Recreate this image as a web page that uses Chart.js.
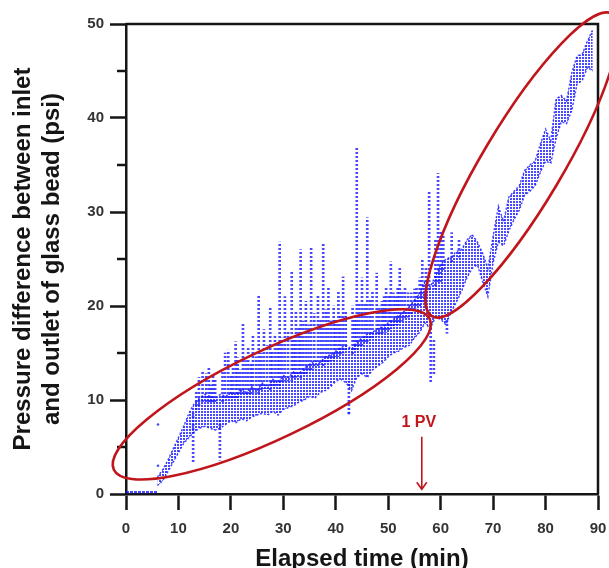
<!DOCTYPE html>
<html>
<head>
<meta charset="utf-8">
<script src="https://cdn.jsdelivr.net/npm/chart.js@4.4.1/dist/chart.umd.min.js"></script>
<style>
  html, body { margin: 0; padding: 0; background: #fff; }
</style>
</head>
<body>
<canvas id="chart" width="609" height="568"></canvas>
<script>
// pressure trace (time in min, pressure in psi)

// flat start before the beads load up
const baseTime = [0, 1, 2, 3, 4, 5, 6];
const baseValue = [0.2, 0.2, 0.2, 0.2, 0.2, 0.2, 0.2];

// dense band of the trace, lower and upper edge per minute
const coreTime = [6, 7, 8, 9, 10, 11, 12, 13, 14, 15, 16, 17, 18, 19, 20, 21, 22, 23, 24, 25,
    26, 27, 28, 29, 30, 31, 32, 33, 34, 35, 36, 37, 38, 39, 40, 41, 42, 43, 44, 45,
    46, 47, 48, 49, 50, 51, 52, 53, 54, 55, 56, 57, 58, 59, 60, 61, 62, 63, 64, 65,
    66, 67, 68, 69, 70, 71, 72, 73, 74, 75, 76, 77, 78, 79, 80, 81, 82, 83, 84, 85,
    86, 87, 88, 89];
const coreLow = [0.9, 1.4, 2.4, 3.4, 4.4, 5.4, 6.0, 6.6, 7.0, 7.2, 7.0, 6.8, 7.0, 7.4, 7.8, 7.6, 8.0, 7.8, 8.2, 8.4,
    8.6, 8.4, 8.8, 8.4, 9.0, 9.2, 9.4, 9.8, 10.0, 10.4, 10.2, 10.8, 11.0, 11.4, 12.0, 12.2, 11.8, 11.0, 12.4, 12.8,
    12.4, 13.2, 13.6, 14.0, 14.6, 15.0, 15.2, 15.6, 15.8, 16.6, 17.2, 18.2, 17.6, 18.8, 18.6, 18.0, 19.4, 20.4, 21.6, 23.0,
    24.0, 24.4, 22.6, 21.0, 24.6, 26.8, 26.4, 28.0, 29.2, 30.2, 31.8, 32.2, 32.8, 34.2, 35.4, 35.2, 37.8, 39.6, 39.4, 40.8,
    43.6, 44.0, 45.4, 45.0];
const coreHigh = [1.8, 2.6, 3.6, 4.8, 6.0, 7.2, 8.6, 9.6, 10.2, 10.6, 10.4, 10.2, 10.6, 10.4, 10.8, 10.6, 11.2, 10.8, 11.4, 11.0,
    11.8, 11.4, 12.2, 11.8, 12.6, 12.4, 13.0, 12.8, 13.4, 13.8, 14.2, 14.0, 14.6, 14.8, 15.2, 15.6, 15.8, 15.4, 16.2, 16.6,
    17.0, 17.2, 17.6, 17.8, 18.2, 18.6, 19.0, 19.4, 20.0, 20.6, 21.4, 22.6, 22.0, 23.2, 24.4, 25.0, 25.2, 25.8, 26.0, 27.0,
    27.6, 26.8, 25.6, 24.0, 27.4, 30.6, 29.0, 31.6, 32.2, 32.8, 34.4, 35.0, 35.4, 37.2, 38.8, 37.6, 42.0, 42.4, 41.8, 44.8,
    46.6, 46.8, 48.2, 49.4];

// pressure spikes: runs of samples going up (or down) from the band
const spikeTime = [12.8, 13.4, 13.9, 14.6, 15.3, 15.8, 16.2, 16.6, 17.0, 17.9, 18.4, 18.9, 19.5, 20.0, 20.4, 20.9,
    21.3, 21.8, 22.3, 22.8, 23.3, 23.8, 24.2, 24.8, 25.3, 25.8, 26.3, 26.9, 27.5, 27.9, 28.4, 28.9,
    29.3, 29.8, 30.3, 30.9, 31.6, 32.0, 32.4, 32.9, 33.3, 33.8, 34.3, 34.8, 35.3, 35.9, 36.6, 37.1,
    37.6, 38.1, 38.6, 39.1, 39.6, 40.0, 40.5, 40.9, 41.4, 41.9, 42.5, 43.2, 43.6, 44.0, 44.5, 45.0,
    45.5, 46.0, 46.5, 47.0, 47.8, 48.3, 48.8, 49.2, 49.6, 50.1, 50.5, 51.0, 51.4, 51.8, 52.2, 52.7,
    53.2, 53.8, 54.4, 55.0, 55.4, 56.0, 56.5, 57.2, 57.8, 58.1, 58.7, 59.0, 59.5, 60.0, 60.5, 61.2,
    62.1, 63.5];
const spikeLow = [3.4, 9.0, 9.2, 9.6, 9.8, 9.8, 9.6, 9.6, 9.6, 3.6, 9.8, 10.0, 10.0, 10.0, 10.2, 10.2,
    10.2, 10.4, 10.6, 10.6, 10.4, 10.6, 10.8, 10.8, 10.6, 11.0, 11.2, 11.2, 11.0, 11.4, 11.4, 11.6,
    11.2, 11.8, 12.0, 12.0, 12.0, 12.4, 12.4, 12.6, 12.2, 12.8, 12.8, 13.0, 13.0, 13.4, 13.6, 13.8,
    13.6, 14.0, 14.0, 14.2, 14.2, 14.6, 14.6, 14.8, 15.0, 15.2, 8.6, 14.8, 15.2, 15.4, 15.6, 15.8,
    16.0, 16.2, 16.4, 16.6, 16.8, 17.0, 17.0, 17.2, 17.2, 17.4, 17.6, 17.8, 18.0, 18.0, 18.2, 18.4,
    18.6, 18.8, 19.0, 19.4, 19.8, 20.0, 20.4, 20.8, 21.6, 11.8, 12.6, 21.8, 22.4, 22.6, 23.8, 17.1,
    24.6, 25.2];
const spikeHigh = [8.6, 11.0, 12.4, 13.0, 12.8, 13.4, 11.6, 12.6, 12.1, 8.0, 13.2, 15.0, 15.3, 12.6, 13.6, 16.2,
    14.5, 13.2, 18.2, 14.2, 15.5, 13.8, 16.8, 14.6, 21.2, 15.0, 17.5, 15.8, 19.9, 15.2, 17.0, 16.0,
    26.8, 16.6, 21.0, 17.4, 23.6, 17.0, 19.5, 17.8, 26.0, 18.4, 20.5, 18.0, 26.3, 19.2, 21.2, 18.6,
    26.7, 19.6, 22.0, 18.4, 20.0, 18.6, 21.5, 19.0, 23.1, 19.4, 12.0, 20.0, 19.0, 36.9, 20.4, 23.0,
    20.2, 29.4, 20.6, 21.5, 23.5, 20.0, 20.5, 21.0, 22.0, 21.2, 24.7, 21.4, 21.0, 22.0, 24.0, 21.6,
    22.0, 21.4, 21.4, 21.8, 22.0, 23.0, 25.0, 24.0, 32.3, 17.8, 16.4, 27.0, 34.1, 28.0, 27.6, 18.6,
    27.8, 27.0];

// lone samples away from the rest
const strayTime = [6.1, 6.1, 42.5];
const strayValue = [7.4, 3.0, 8.6];

const xTicks = [0, 10, 20, 30, 40, 50, 60, 70, 80, 90];
const yTicks = [0, 10, 20, 30, 40, 50];
const yMinorTicks = [5, 15, 25, 35, 45];

// "1 PV" marker
const pvTime = 56.4;
const pvLabel = '1 PV';

const FONT = '"Liberation Sans", Arial, sans-serif';
const BLUE = 'rgba(20, 20, 255, 0.78)';
const RED = '#c0161b';
const INK = '#151515';

// small tiled dot patterns so the marks read as sampled points
function dotPattern(w, h, size, color) {
    const c = document.createElement('canvas');
    c.width = w;
    c.height = h;
    const g = c.getContext('2d');
    g.fillStyle = color;
    g.fillRect(0, 0, size, size);
    return g.createPattern(c, 'repeat');
}

const denseDots = dotPattern(3, 3, 2, BLUE);
const sparseDots = dotPattern(2, 4, 2, BLUE);

const decorPlugin = {
    id: 'decor',
    afterDraw(chart) {
        const { ctx, chartArea: area, scales: { x, y } } = chart;
        ctx.save();

        // minor ticks on the pressure axis
        ctx.strokeStyle = INK;
        ctx.lineWidth = 2.5;
        yMinorTicks.forEach(v => {
            const py = y.getPixelForValue(v);
            ctx.beginPath();
            ctx.moveTo(area.left - 9, py);
            ctx.lineTo(area.left, py);
            ctx.stroke();
        });

        // top and right frame
        ctx.beginPath();
        ctx.moveTo(area.left, area.top);
        ctx.lineTo(area.right, area.top);
        ctx.lineTo(area.right, area.bottom);
        ctx.stroke();

        // the two highlight ellipses
        ctx.strokeStyle = RED;
        ctx.lineWidth = 2.6;
        const ellipses = [
            { t: 27.8, v: 10.6, a: 175, b: 44, deg: -25.5 },
            { t: 75.5, v: 35.0, a: 176, b: 40, deg: -59.2 }
        ];
        ellipses.forEach(e => {
            ctx.beginPath();
            ctx.ellipse(x.getPixelForValue(e.t), y.getPixelForValue(e.v), e.a, e.b,
                e.deg * Math.PI / 180, 0, Math.PI * 2);
            ctx.stroke();
        });

        // 1 PV label and arrow
        const px = x.getPixelForValue(pvTime);
        ctx.fillStyle = RED;
        ctx.font = 'bold 16px ' + FONT;
        ctx.textAlign = 'center';
        ctx.textBaseline = 'middle';
        ctx.fillText(pvLabel, px - 3, y.getPixelForValue(7.55));
        const top = y.getPixelForValue(6.1);
        const tip = y.getPixelForValue(0.5);
        ctx.lineWidth = 1.6;
        ctx.beginPath();
        ctx.moveTo(px, top);
        ctx.lineTo(px, tip);
        ctx.moveTo(px - 5, tip - 7);
        ctx.lineTo(px, tip);
        ctx.lineTo(px + 5, tip - 7);
        ctx.stroke();

        ctx.restore();
    }
};

const pts = (xs, ys) => xs.map((t, i) => ({ x: t, y: ys[i] }));

new Chart(document.getElementById('chart'), {
    type: 'scatter',
    data: {
        datasets: [
            {
                type: 'line',
                data: pts(baseTime, baseValue),
                borderColor: BLUE,
                borderWidth: 2.2,
                borderDash: [3, 1],
                pointRadius: 0
            },
            {
                type: 'line',
                data: pts(coreTime, coreLow),
                borderColor: BLUE,
                borderWidth: 1.5,
                borderDash: [2, 2],
                pointRadius: 0,
                fill: false
            },
            {
                type: 'line',
                data: pts(coreTime, coreHigh),
                borderColor: BLUE,
                borderWidth: 1.5,
                borderDash: [2, 2],
                pointRadius: 0,
                backgroundColor: denseDots,
                fill: '-1'
            },
            {
                type: 'bar',
                data: spikeTime.map((t, i) => ({ x: t, y: [spikeLow[i], spikeHigh[i]] })),
                backgroundColor: sparseDots,
                borderWidth: 0,
                barThickness: 2,
                grouped: false
            },
            {
                type: 'scatter',
                data: pts(strayTime, strayValue),
                backgroundColor: BLUE,
                borderWidth: 0,
                pointRadius: 1.3
            }
        ]
    },
    options: {
        responsive: false,
        animation: false,
        events: [],
        layout: { padding: { top: 24, right: 11, left: 0, bottom: 0 } },
        plugins: {
            legend: { display: false },
            tooltip: { enabled: false }
        },
        scales: {
            x: {
                type: 'linear',
                min: 0,
                max: 90,
                offset: false,
                afterBuildTicks: s => { s.ticks = xTicks.map(v => ({ value: v })); },
                afterFit: s => {
                    s.height = 74;
                    s.paddingLeft = 0;
                    s.paddingRight = 0;
                },
                border: { display: true, color: INK, width: 2.5 },
                grid: {
                    offset: false,
                    drawOnChartArea: false,
                    drawTicks: true,
                    tickLength: 16,
                    tickWidth: 2.5,
                    tickColor: INK
                },
                ticks: {
                    autoSkip: false,
                    maxRotation: 0,
                    padding: 10,
                    color: '#333',
                    font: { family: FONT, size: 15, weight: 'bold' }
                },
                title: {
                    display: true,
                    text: 'Elapsed time (min)',
                    color: INK,
                    padding: { top: 0, bottom: -6 },
                    font: { family: FONT, size: 24, weight: 'bold' }
                }
            },
            y: {
                type: 'linear',
                min: 0,
                max: 50,
                afterBuildTicks: s => { s.ticks = yTicks.map(v => ({ value: v })); },
                afterFit: s => {
                    s.width = 126;
                    s.paddingTop = 0;
                    s.paddingBottom = 0;
                },
                border: { display: true, color: INK, width: 2.5 },
                grid: {
                    offset: false,
                    drawOnChartArea: false,
                    drawTicks: true,
                    tickLength: 16,
                    tickWidth: 2.5,
                    tickColor: INK
                },
                ticks: {
                    padding: 6,
                    color: '#333',
                    font: { family: FONT, size: 15, weight: 'bold' }
                },
                title: {
                    display: true,
                    text: ['Pressure difference between inlet', 'and outlet of glass bead (psi)'],
                    color: INK,
                    padding: { top: 9, bottom: 0 },
                    font: { family: FONT, size: 24, weight: 'bold', lineHeight: 1.2 }
                }
            }
        }
    },
    plugins: [decorPlugin]
});
</script>
</body>
</html>
